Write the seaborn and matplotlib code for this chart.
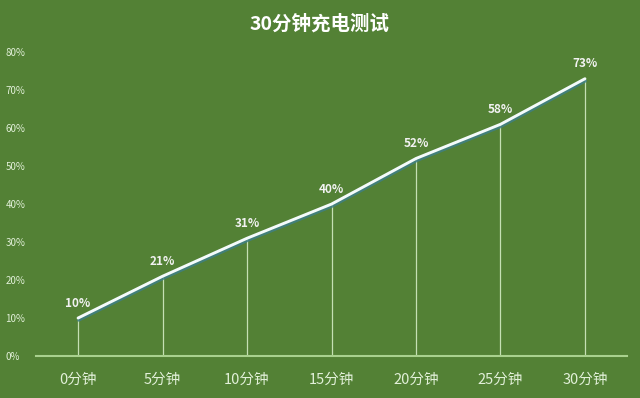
import matplotlib
matplotlib.use("Agg")
import matplotlib.pyplot as plt
import matplotlib.patheffects as pe
import pandas as pd
import seaborn as sns

minutes = ["0分钟", "5分钟", "10分钟", "15分钟", "20分钟", "25分钟", "30分钟"]
charge = [10, 21, 31, 40, 52, 61, 73]
point_labels = ["10%", "21%", "31%", "40%", "52%", "58%", "73%"]
y_ticks = [0, 10, 20, 30, 40, 50, 60, 70, 80]

bg = "#538135"
sns.set_style("white")
plt.rcParams["font.family"] = ["Noto Sans CJK SC", "DejaVu Sans"]

df = pd.DataFrame({"t": range(len(minutes)), "charge": charge})

fig = plt.figure(figsize=(6.4, 3.98), dpi=100, facecolor=bg)
ax = fig.add_axes([0.056, 0.1055, 0.924, 0.7635])
ax.set_facecolor(bg)

# drop lines
ax.vlines(df["t"], 0, df["charge"], color="#c5e0b4", lw=0.9, zorder=1)

sns.lineplot(data=df, x="t", y="charge", ax=ax, color="#f4fbfb", lw=2.1,
             zorder=3, solid_joinstyle="round", solid_capstyle="round",
             path_effects=[pe.SimpleLineShadow(offset=(0.4, -1.6),
                                               shadow_color="#3f7f86", alpha=0.85),
                           pe.Normal()])

for t, v, lab in zip(df["t"], df["charge"], point_labels):
    ax.annotate(lab, (t, v), xytext=(0, 6), textcoords="offset points",
                ha="center", va="bottom", color="#f2f2f2", fontsize=8.5,
                fontweight="bold")

ax.set_xlim(-0.5, len(minutes) - 0.5)
ax.set_ylim(0, 80)
ax.set_xticks(range(len(minutes)))
ax.set_xticklabels(minutes, color="#e2f0d9", fontsize=10.5)
ax.set_yticks(y_ticks)
ax.set_yticklabels([f"{v}%" for v in y_ticks], color="#e2f0d9", fontsize=7)
ax.tick_params(axis="both", length=0)
ax.tick_params(axis="x", pad=12)
ax.tick_params(axis="y", pad=22)
for yl in ax.get_yticklabels():
    yl.set_horizontalalignment("left")
ax.set_xlabel("")
ax.set_ylabel("")
for s in ["top", "right", "left"]:
    ax.spines[s].set_visible(False)
ax.spines["bottom"].set_color("#a9d18e")
ax.spines["bottom"].set_linewidth(1.5)

fig.text(0.5, 0.94, "30分钟充电测试", ha="center", va="center",
         color="white", fontsize=14, fontweight="bold")

fig.savefig("out.png", dpi=100, facecolor=bg)
